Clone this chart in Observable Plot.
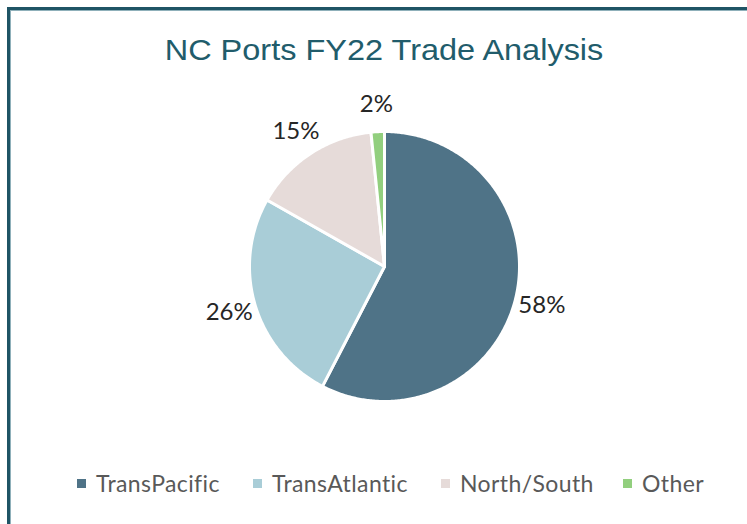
<!DOCTYPE html>
<html><head><meta charset="utf-8">
<script src="https://cdn.jsdelivr.net/npm/d3@7"></script>
<script src="https://cdn.jsdelivr.net/npm/@observablehq/plot@0.6"></script>
<style>
html,body{margin:0;padding:0;background:#fff;width:747px;height:524px;overflow:hidden;}
#frame{position:absolute;left:7px;top:7px;width:800px;height:600px;border-top:3px solid #1f5465;border-left:3px solid #1f5465;box-shadow:inset 1px 1px 0 #8fb0ba;}
#title{position:absolute;left:0;width:768px;top:34px;text-align:center;font-family:"Liberation Sans",Arial,sans-serif;font-size:29px;color:#215c6b;transform:scaleX(1.12);transform-origin:384px 0;}
#chart{position:absolute;left:0;top:80px;}
#legend{position:absolute;top:469px;left:0;width:747px;font-family:Lato,"Open Sans",sans-serif;font-size:23px;letter-spacing:0.4px;color:#595959;}
.item{position:absolute;display:flex;align-items:center;white-space:nowrap;}
.sw{width:9px;height:9px;margin-right:10px;}
</style></head>
<body>
<div id="frame"></div>
<div id="title">NC Ports FY22 Trade Analysis</div>
<div id="chart"></div>
<div id="legend"></div>
<script>
const categories = ["TransPacific", "TransAtlantic", "North/South", "Other"];
const shares = [57.6, 25.6, 15.2, 1.6];
const labels = ["58%", "26%", "15%", "2%"];
const colors = ["#4f7387", "#a9cdd7", "#e6dbd9", "#92cf7e"];

const W = 747, H = 380, R = 135, cx = 384, cy = 186;
const total = d3.sum(shares);
let acc = 0;
const slices = categories.map((c, i) => {
  const a0 = acc / total * 2 * Math.PI;
  acc += shares[i];
  const a1 = acc / total * 2 * Math.PI;
  return {c, i, a0, a1};
});
const pts = [];
for (const s of slices) {
  pts.push({c: s.c, x: 0, y: 0});
  const n = Math.max(4, Math.ceil((s.a1 - s.a0) / 0.01));
  for (let k = 0; k <= n; k++) {
    const a = s.a0 + (s.a1 - s.a0) * k / n;
    pts.push({c: s.c, x: Math.sin(a), y: Math.cos(a)});
  }
  pts.push({c: s.c, x: 0, y: 0});
}
const lab = slices.map(s => {
  const m = (s.a0 + s.a1) / 2;
  return {t: labels[s.i], x: Math.sin(m) * 1.2, y: Math.cos(m) * 1.2};
});

const chart = Plot.plot({
  width: W, height: H,
  margin: 0,
  x: {domain: [-cx / R, (W - cx) / R], range: [0, W], axis: null},
  y: {domain: [-(H - cy) / R, cy / R], range: [H, 0], axis: null},
  color: {domain: categories, range: colors},
  style: {background: "transparent"},
  marks: [
    Plot.line(pts, {x: "x", y: "y", z: "c", fill: "c", stroke: "white", strokeWidth: 3, strokeLinejoin: "round", curve: "linear"}),
    Plot.text(lab, {x: "x", y: "y", text: "t", fontSize: 24, fill: "#262626", fontFamily: "Lato, 'Open Sans', sans-serif"})
  ]
});
document.getElementById("chart").appendChild(chart);

const legX = [77, 253, 441, 623];
const leg = document.getElementById("legend");
categories.forEach((c, i) => {
  const d = document.createElement("div");
  d.className = "item";
  d.style.left = legX[i] + "px";
  d.innerHTML = `<span class="sw" style="background:${colors[i]}"></span><span>${c}</span>`;
  leg.appendChild(d);
});
</script>
</body></html>
